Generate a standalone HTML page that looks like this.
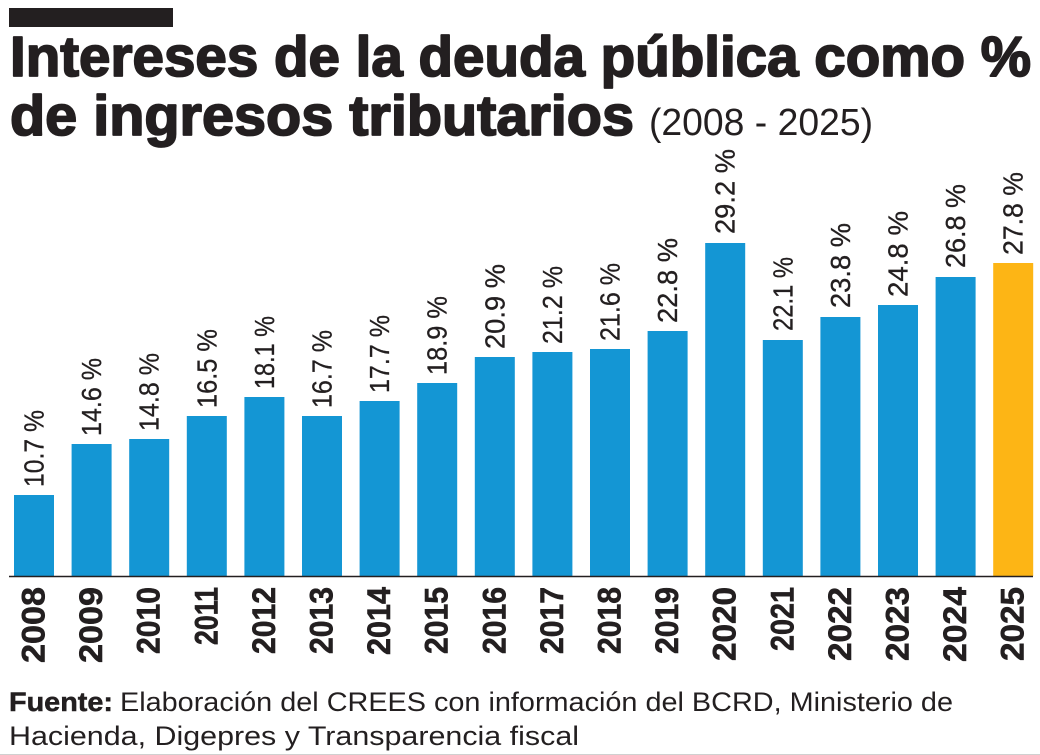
<!DOCTYPE html>
<html>
<head>
<meta charset="utf-8">
<style>
html,body{margin:0;padding:0;background:#ffffff;}
svg{display:block;}
text{font-family:"Liberation Sans", Arial, sans-serif;fill:#231f20;}
</style>
</head>
<body>
<svg width="1040" height="755" viewBox="0 0 1040 755" xmlns="http://www.w3.org/2000/svg">
<rect x="0" y="0" width="1040" height="755" fill="#ffffff"/>
<rect x="9" y="8" width="164" height="19" fill="#231f20"/>

<g stroke="#231f20" stroke-width="1.8" stroke-linejoin="round">
<text x="10" y="76" font-size="57" font-weight="bold" textLength="1021" lengthAdjust="spacingAndGlyphs">Intereses de la deuda pública como %</text>
<text x="10" y="135" font-size="57" font-weight="bold" textLength="624" lengthAdjust="spacingAndGlyphs">de ingresos tributarios</text>
</g>
<text x="649" y="135" font-size="38" textLength="224" lengthAdjust="spacingAndGlyphs">(2008 - 2025)</text>

<g fill="#1496d4">
<rect x="14" y="495" width="40" height="81"/>
<rect x="71.6" y="444" width="40" height="132"/>
<rect x="129.2" y="439" width="40" height="137"/>
<rect x="186.8" y="416" width="40" height="160"/>
<rect x="244.4" y="397" width="40" height="179"/>
<rect x="302" y="416" width="40" height="160"/>
<rect x="359.6" y="401" width="40" height="175"/>
<rect x="417.2" y="383" width="40" height="193"/>
<rect x="474.8" y="357" width="40" height="219"/>
<rect x="532.4" y="352" width="40" height="224"/>
<rect x="590" y="349" width="40" height="227"/>
<rect x="647.6" y="331" width="40" height="245"/>
<rect x="705.2" y="243" width="40" height="333"/>
<rect x="762.8" y="340" width="40" height="236"/>
<rect x="820.4" y="317" width="40" height="259"/>
<rect x="878" y="305" width="40" height="271"/>
<rect x="935.6" y="277" width="40" height="299"/>
</g>
<rect x="993.2" y="263" width="40" height="313" fill="#fdb515"/>

<line x1="9" y1="576.5" x2="1033" y2="576.5" stroke="#231f20" stroke-width="1.6"/>

<g font-size="28" stroke="#231f20" stroke-width="0.3">
<text transform="translate(43.5,487) rotate(-90)" textLength="77" lengthAdjust="spacingAndGlyphs">10.7 %</text>
<text transform="translate(101.1,436) rotate(-90)" textLength="78" lengthAdjust="spacingAndGlyphs">14.6 %</text>
<text transform="translate(158.7,431) rotate(-90)" textLength="78" lengthAdjust="spacingAndGlyphs">14.8 %</text>
<text transform="translate(216.3,408) rotate(-90)" textLength="79" lengthAdjust="spacingAndGlyphs">16.5 %</text>
<text transform="translate(273.9,389) rotate(-90)" textLength="73" lengthAdjust="spacingAndGlyphs">18.1 %</text>
<text transform="translate(331.5,408) rotate(-90)" textLength="78" lengthAdjust="spacingAndGlyphs">16.7 %</text>
<text transform="translate(389.1,393) rotate(-90)" textLength="78" lengthAdjust="spacingAndGlyphs">17.7 %</text>
<text transform="translate(446.7,375) rotate(-90)" textLength="79" lengthAdjust="spacingAndGlyphs">18.9 %</text>
<text transform="translate(504.3,349) rotate(-90)" textLength="85" lengthAdjust="spacingAndGlyphs">20.9 %</text>
<text transform="translate(561.9,344) rotate(-90)" textLength="78" lengthAdjust="spacingAndGlyphs">21.2 %</text>
<text transform="translate(619.5,341) rotate(-90)" textLength="78" lengthAdjust="spacingAndGlyphs">21.6 %</text>
<text transform="translate(677.1,323) rotate(-90)" textLength="85" lengthAdjust="spacingAndGlyphs">22.8 %</text>
<text transform="translate(734.7,234) rotate(-90)" textLength="85" lengthAdjust="spacingAndGlyphs">29.2 %</text>
<text transform="translate(792.3,331) rotate(-90)" textLength="74" lengthAdjust="spacingAndGlyphs">22.1 %</text>
<text transform="translate(849.9,308) rotate(-90)" textLength="85" lengthAdjust="spacingAndGlyphs">23.8 %</text>
<text transform="translate(907.5,297) rotate(-90)" textLength="86" lengthAdjust="spacingAndGlyphs">24.8 %</text>
<text transform="translate(965.1,268) rotate(-90)" textLength="84" lengthAdjust="spacingAndGlyphs">26.8 %</text>
<text transform="translate(1022.7,255) rotate(-90)" textLength="83" lengthAdjust="spacingAndGlyphs">27.8 %</text>
</g>

<g font-size="32" font-weight="bold" text-anchor="end" stroke="#231f20" stroke-width="0.6">
<text transform="translate(44.5,587) rotate(-90)" textLength="76" lengthAdjust="spacingAndGlyphs">2008</text>
<text transform="translate(102.1,587) rotate(-90)" textLength="76" lengthAdjust="spacingAndGlyphs">2009</text>
<text transform="translate(159.7,587) rotate(-90)" textLength="67" lengthAdjust="spacingAndGlyphs">2010</text>
<text transform="translate(217.3,587) rotate(-90)" textLength="58" lengthAdjust="spacingAndGlyphs">2011</text>
<text transform="translate(274.9,587) rotate(-90)" textLength="67" lengthAdjust="spacingAndGlyphs">2012</text>
<text transform="translate(332.5,587) rotate(-90)" textLength="67" lengthAdjust="spacingAndGlyphs">2013</text>
<text transform="translate(390.1,587) rotate(-90)" textLength="68" lengthAdjust="spacingAndGlyphs">2014</text>
<text transform="translate(447.7,587) rotate(-90)" textLength="67" lengthAdjust="spacingAndGlyphs">2015</text>
<text transform="translate(505.3,587) rotate(-90)" textLength="67" lengthAdjust="spacingAndGlyphs">2016</text>
<text transform="translate(562.9,587) rotate(-90)" textLength="67" lengthAdjust="spacingAndGlyphs">2017</text>
<text transform="translate(620.5,587) rotate(-90)" textLength="67" lengthAdjust="spacingAndGlyphs">2018</text>
<text transform="translate(678.1,587) rotate(-90)" textLength="67" lengthAdjust="spacingAndGlyphs">2019</text>
<text transform="translate(735.7,587) rotate(-90)" textLength="74" lengthAdjust="spacingAndGlyphs">2020</text>
<text transform="translate(793.3,587) rotate(-90)" textLength="64" lengthAdjust="spacingAndGlyphs">2021</text>
<text transform="translate(850.9,587) rotate(-90)" textLength="74" lengthAdjust="spacingAndGlyphs">2022</text>
<text transform="translate(908.5,587) rotate(-90)" textLength="74" lengthAdjust="spacingAndGlyphs">2023</text>
<text transform="translate(966.1,587) rotate(-90)" textLength="75" lengthAdjust="spacingAndGlyphs">2024</text>
<text transform="translate(1023.7,587) rotate(-90)" textLength="74" lengthAdjust="spacingAndGlyphs">2025</text>
</g>

<text x="9" y="711" font-size="27" font-weight="bold" stroke="#231f20" stroke-width="0.5" textLength="104" lengthAdjust="spacingAndGlyphs">Fuente:</text>
<text x="120" y="711" font-size="27" textLength="833" lengthAdjust="spacingAndGlyphs">Elaboración del CREES con información del BCRD, Ministerio de</text>
<text x="9" y="745" font-size="27" textLength="570" lengthAdjust="spacingAndGlyphs">Hacienda, Digepres y Transparencia fiscal</text>

<line x1="0" y1="754.5" x2="1040" y2="754.5" stroke="#d0d0d0" stroke-width="1"/>
</svg>
</body>
</html>
